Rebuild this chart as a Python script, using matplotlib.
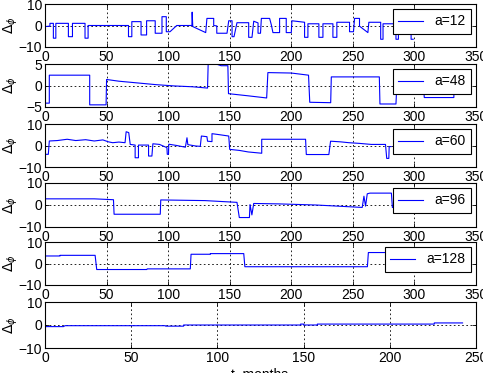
import matplotlib

matplotlib.use("Agg")
import matplotlib.pyplot as plt

plt.rcParams["font.family"] = ["Liberation Sans", "DejaVu Sans"]
plt.rcParams["font.size"] = 10

# panel labels
LABELS = ["a=12", "a=48", "a=60", "a=96", "a=128", None]

# vertices (t, value), one pair of lists per panel
t12 = [0, 4, 4, 6.8, 6.8, 8.8, 8.8, 19, 19, 22.3, 22.3, 32.5, 32.5, 35, 35,
       67.8, 67.8, 70.5, 70.5, 78, 78, 82.5, 82.5, 89.5, 89.5, 95, 95, 98.5,
       98.5, 101.5, 107, 119.3, 119.5, 120, 130.5, 131.5, 137, 137, 139.5,
       139.5, 147.8, 149.2, 151.9, 151.9, 153.5, 155.9, 165.4, 165.4, 168.1,
       169.5, 173, 173, 175, 175.7, 182.4, 183.8, 185.1, 190.5, 190.5, 195.9,
       195.9, 200, 200.5, 210.8, 210.8, 213.5, 213.5, 222.4, 222.4, 225.7,
       225.7, 233.8, 233.8, 237, 237, 247.3, 247.3, 250.5, 251.4, 255.4, 255.4,
       262.2, 263, 272.6, 272.6, 274.5, 274.5, 285, 285, 287, 287, 297.3,
       297.3, 299]
v12 = [-0.5, -0.3, 1.0, 1.0, -5.9, -5.9, 1.0, 1.0, -5.2, -5.2, 1.0, 1.0, -5.9,
       -5.9, 0, 0, -5.2, -5.2, 1.8, 1.8, -4.4, -4.4, 2.2, 2.2, -3.6, -3.6,
       4.1, 4.1, -2.9, -2.9, 0, 0, 6.2, -0.5, -3.3, 3.3, 3.3, 0, -0.2, -3.6,
       -3.6, 2.2, 2.2, -5.2, -5.2, 1.3, 1.3, -5.5, -5.5, 2.0, 1.2, -3.6, -3.6,
       3.3, 3.3, 0.3, -3.3, -3.3, 3.3, 3.3, -3.3, -3.3, 2.2, 1.5, -5.5, -5.5,
       0.8, 0.8, -5.5, -5.5, 0.8, 0.8, -5.5, -5.5, 1.5, 1.5, -2.9, -2.9, 3.3,
       3.3, -0.3, -3.3, 1.5, 1.5, -6.4, -6.4, 0.8, 0.8, -6.4, -6.4, 0.8, 0.8,
       -6.4, -6.4]

t48 = [1, 3.5, 3.5, 36.3, 36.3, 49.6, 50, 60, 75, 90, 105, 120, 132, 132.5,
       140, 143, 148.5, 149, 165, 180, 181, 200, 214, 215, 232, 232.5, 271.5,
       272, 285, 286, 307, 308, 332, 332.5, 333]
v48 = [-4.1, -4.1, 2.4, 2.4, -4.5, -4.5, 1.4, 1.0, 0.6, 0.2, -0.1, -0.3, -0.6,
       5.0, 4.9, 4.6, 4.6, -1.9, -2.4, -2.9, 3.0, 2.9, 2.4, -3.9, -4.0, 2.0,
       2.0, -4.3, -4.3, 2.0, 2.0, -2.8, -2.8, 3.5, 3.5]

t60 = [1, 2.7, 3.5, 10, 18, 25, 33, 40, 47, 51.5, 55, 60, 65, 65.9, 68, 69.2,
       73.2, 73.2, 75.9, 75.9, 84.1, 84.1, 86.8, 87.6, 93, 99, 99.3, 100.3,
       100.5, 107, 114, 115.3, 116, 122, 126.1, 127, 131.5, 132, 135.6, 135.6,
       142, 149.2, 150, 158, 165, 176, 176, 211.6, 212.2, 230.5, 231.9, 240,
       246.8, 255, 265, 276.5, 277.5, 279.2, 279.5, 281]
v60 = [-4.1, -4.1, 2.1, 2.3, 2.9, 2.3, 2.7, 2.1, 2.6, 1.7, 1.3, 1.6, 1.3, 6.4,
       6.0, 0.5, 0.2, -5.7, -5.7, 0.2, 0.2, -4.9, -4.9, 0.8, 0.5, -1.0, -4.1,
       -4.1, 0.6, 0, -0.8, 3.6, 0.4, -0.2, -0.4, 4.4, 4.1, 2.0, 1.8, 5.5, 5.0,
       4.4, -1.8, -2.3, -3.0, -3.6, 2.9, 2.9, -4.2, -4.2, 2.0, 1.7, 1.3, 1.0,
       0.5, 0.5, -6.0, -6.0, -0.5, -0.5]

t96 = [0.8, 40, 55.6, 56.1, 93.6, 94, 130, 155.9, 157.8, 166, 166.5, 168,
       169.5, 190, 220, 257.6, 259, 260.3, 261.7, 263.9, 281.3, 282.1, 290]
v96 = [2.8, 2.8, 2.4, -4.2, -4.2, 2.3, 2.0, 1.2, -5.7, -5.7, 0.2, -4.5, 0.7,
       0.5, 0, -1.1, 4.0, -0.5, 5.1, 5.4, 5.4, -1.1, -1.1]

t128 = [0, 12.2, 12.2, 40.7, 42, 82.7, 83, 118, 118.6, 134.3, 134.3, 161.4,
        162.3, 261.8, 262.6, 290]
v128 = [3.5, 3.5, 3.8, 3.8, -2.8, -2.8, -2.5, -2.5, 4.3, 4.3, 4.6, 4.6, -1.5,
        -1.5, 5.1, 5.1]

t_last = [0, 10.7, 11.6, 69.8, 70, 80.4, 80.4, 148.3, 148.3, 150, 150, 158,
          158, 225.8, 225.8, 242.2]
v_last = [-0.7, -0.7, -0.3, -0.3, -0.5, -0.5, 0, 0, 0.4, 0.4, 0, 0, 0.4, 0.4,
          0.9, 0.9]

SERIES = [(t12, v12), (t48, v48), (t60, v60), (t96, v96), (t128, v128),
          (t_last, v_last)]
XMAX = [350, 350, 350, 350, 350, 250]
YLIM = [10, 5, 10, 10, 10, 10]

# axes boxes in pixels (top, bottom)
BOXES = [(4, 47), (64, 107), (124, 167), (183, 227), (242, 285), (302, 348)]
W, H = 483, 373

fig = plt.figure(figsize=(W / 100, H / 100), dpi=100)
for (t, v), lab, xmax, ylim, (top, bot) in zip(SERIES, LABELS, XMAX, YLIM, BOXES):
    ax = fig.add_axes([45 / W, 1 - bot / H, 431 / W, (bot - top) / H])
    ax.plot(t, v, color="#0000FF", lw=0.8, label=lab)
    ax.set_xlim(0, xmax)
    ax.set_ylim(-ylim, ylim)
    ax.set_xticks(range(0, xmax + 1, 50))
    ax.set_yticks([-ylim, 0, ylim])
    ax.tick_params(direction="in", length=3, width=0.6, top=True, right=True,
                   pad=2, labelsize=10)
    ax.grid(True, color="k", linestyle=(0, (2, 3)), linewidth=0.6)
    for s in ax.spines.values():
        s.set_linewidth(0.8)
    ax.set_ylabel(r"$\Delta_\phi$", fontsize=10)
    ax.yaxis.set_label_coords(-0.058, 0.5)
    if lab:
        leg = ax.legend(loc="upper right", frameon=True, fancybox=False,
                        framealpha=1, edgecolor="k", fontsize=10,
                        handlelength=1.8, handletextpad=0.8, borderpad=0.4,
                        borderaxespad=0.35)
        leg.get_frame().set_linewidth(0.8)

fig.text(260 / W, 1 - 368 / H, "t, months", ha="center", va="top", fontsize=10)
fig.savefig("out.png", dpi=100)
